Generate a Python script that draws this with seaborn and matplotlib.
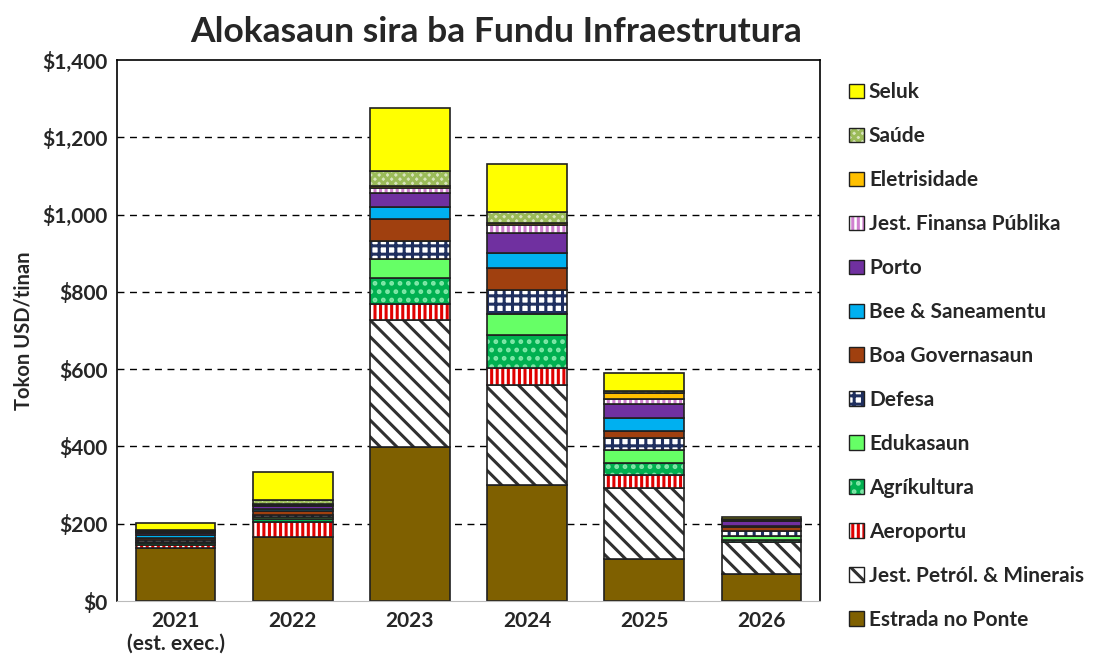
import numpy as np
import pandas as pd
import matplotlib
matplotlib.use("Agg")
import matplotlib.pyplot as plt
import seaborn as sns
from matplotlib.patches import Patch
from matplotlib.ticker import FuncFormatter
from matplotlib.legend_handler import HandlerTuple

years = ['2021\n(est. exec.)', '2022', '2023', '2024', '2025', '2026']

# bottom to top stacking order
estrada = [136, 165, 399, 300, 109, 69]
petrol = [0, 0, 328, 259, 183, 83]
aeroportu = [10, 40, 42, 43, 34, 0]
agrikultura = [5, 7, 66, 86, 32, 6]
edukasaun = [3, 5, 49, 55, 33, 10]
defesa = [4, 6, 48, 62, 30, 14]
boa_gov = [5, 10, 56, 56, 19, 10]
bee = [8, 6, 32, 40, 33, 3]
porto = [5, 7, 37, 51, 36, 11]
jest_fin = [2, 3, 13, 21, 13, 2]
eletrisidade = [2, 3, 5, 4, 17, 2]
saude = [5, 10, 38, 29, 5, 3]
seluk = [18, 72, 162, 125, 45, 5]

labels = ['Estrada no Ponte', 'Jest. Petról. & Minerais', 'Aeroportu', 'Agríkultura',
          'Edukasaun', 'Defesa', 'Boa Governasaun', 'Bee & Saneamentu', 'Porto',
          'Jest. Finansa Públika', 'Eletrisidade', 'Saúde', 'Seluk']
series = [estrada, petrol, aeroportu, agrikultura, edukasaun, defesa, boa_gov, bee,
          porto, jest_fin, eletrisidade, saude, seluk]

# facecolor, hatch, hatch colour
styles = [
    ('#7F6000', None, None),
    ('white', '\\\\', '#303030'),
    ('white', '|||', '#E00000'),
    ('#00B050', '..', '#80E8A8'),
    ('#66FF66', None, None),
    ('white', '++', '#1F2F5F'),
    ('#A0400F', None, None),
    ('#00B0F0', None, None),
    ('#7030A0', None, None),
    ('white', '|||', '#D080D0'),
    ('#FFC000', None, None),
    ('#D8E4BC', 'xxxx', '#9BBB59'),
    ('#FFFF00', None, None),
]

sns.set_style("white")
plt.rcParams['font.family'] = ['Lato', 'DejaVu Sans']
plt.rcParams['font.weight'] = 'bold'
plt.rcParams['hatch.linewidth'] = 2.2

fig = plt.figure(figsize=(10.97, 6.69), dpi=100)
ax = fig.add_axes([0.1067, 0.1016, 0.6408, 0.8087])

df = pd.DataFrame({'year': years})
bottom = np.zeros(len(years))
for lab, vals, (fc, hatch, hc) in zip(labels, series, styles):
    df['val'] = vals
    sns.barplot(data=df, x='year', y='val', bottom=bottom, color=fc, saturation=1,
                width=0.68, ax=ax, linewidth=0)
    for p in ax.containers[-1]:
        p.set_facecolor(fc)
        if hatch:
            p.set_hatch(hatch)
            p.set_edgecolor(hc)
            p.set_linewidth(0)
    # black outline on each segment
    sns.barplot(data=df, x='year', y='val', bottom=bottom, fill=False, color='black',
                width=0.68, ax=ax, linewidth=1.2)
    for p in ax.containers[-1]:
        p.set_edgecolor('#202020')
    bottom = bottom + np.array(vals)

ax.set_ylim(0, 1400)
ax.set_yticks(range(0, 1401, 200))
ax.yaxis.set_major_formatter(FuncFormatter(lambda v, _: f'${v:,.0f}'))
ax.set_xlabel('')
ax.set_ylabel('Tokon USD/tinan', fontsize=14.5, fontweight='bold', labelpad=6)
ax.tick_params(axis='both', labelsize=15, length=0, pad=7)
for t in ax.get_xticklabels() + ax.get_yticklabels():
    t.set_fontweight('bold')
ax.set_axisbelow(True)
for v in range(200, 1400, 200):
    ax.axhline(v, color='black', linestyle=(0, (5, 4)), linewidth=1, zorder=0)
for s in ['left', 'top', 'right']:
    ax.spines[s].set_color('black')
    ax.spines[s].set_linewidth(1.2)
ax.spines['bottom'].set_color('#BBBBBB')

fig.text(0.452, 0.952, 'Alokasaun sira ba Fundu Infraestrutura', ha='center', va='center',
         fontsize=25.5, fontweight='bold')

handles = []
for fc, hatch, hc in styles:
    if hatch:
        h = (Patch(facecolor=fc, hatch=hatch, edgecolor=hc, linewidth=0),
             Patch(facecolor='none', edgecolor='#202020', linewidth=1))
    else:
        h = Patch(facecolor=fc, edgecolor='#202020', linewidth=1)
    handles.append(h)

leg = fig.legend(handles[::-1], labels[::-1], loc='upper left', bbox_to_anchor=(0.757, 0.905),
                 frameon=False, fontsize=15, labelspacing=1.15, handlelength=0.7,
                 handleheight=0.7, handletextpad=0.25,
                 handler_map={tuple: HandlerTuple(ndivide=1, pad=0)})
for t in leg.get_texts():
    t.set_fontweight('bold')

fig.savefig('out.png', dpi=100)
